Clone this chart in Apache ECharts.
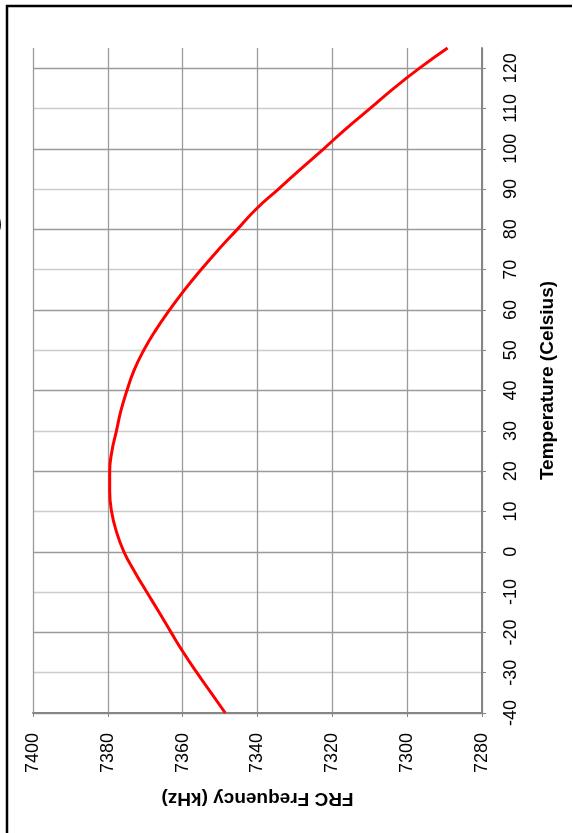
<!DOCTYPE html>
<html>
<head>
<meta charset="utf-8">
<script src="https://cdn.jsdelivr.net/npm/echarts@6/dist/echarts.min.js"></script>
<style>
html,body{margin:0;padding:0;background:#fff;overflow:hidden;}
#chart{width:573px;height:833px;}
</style>
</head>
<body>
<div id="chart"></div>
<script>
// Temperature (Celsius) sample points
const temperatures = [-40,-35,-30,-25,-20,-15,-10,-5,0,5,10,15,20,25,30,35,40,45,50,55,60,65,70,75,80,85,90,95,100,105,110,115,120,125];
// FRC Frequency (kHz)
const frequencies = [7348.6,7352.4,7356.2,7359.8,7363.1,7366.3,7369.6,7372.8,7375.7,7377.7,7379.0,7379.5,7379.5,7378.9,7377.7,7376.5,7374.9,7373.0,7370.4,7367.2,7363.5,7359.5,7355.1,7350.4,7345.4,7340.4,7334.4,7328.4,7322.3,7316.3,7309.9,7303.6,7296.7,7289.2];
// Axis tick labels
const tempTicks = [-40,-30,-20,-10,0,10,20,30,40,50,60,70,80,90,100,110,120];
const freqTicks = [7280,7300,7320,7340,7360,7380,7400];

const chart = echarts.init(document.getElementById('chart'), null, {renderer:'canvas'});
const font = "'Liberation Sans', Arial, sans-serif";
const seriesData = temperatures.map((t,i)=>[frequencies[i], t]);

chart.setOption({
  backgroundColor:'#ffffff',
  animation:false,
  grid:{left:33,right:91,top:48,bottom:120,containLabel:false},
  xAxis:{
    type:'value',
    min:freqTicks[0], max:freqTicks[freqTicks.length-1], interval:20,
    inverse:true,
    position:'bottom',
    name:'FRC Frequency (kHz)',
    nameLocation:'middle',
    nameRotate:180,
    nameGap:76,
    nameTextStyle:{fontFamily:font,fontSize:19,fontWeight:'bold',color:'#000'},
    axisLine:{show:true,onZero:false,lineStyle:{color:'#868686',width:2}},
    axisTick:{show:true,length:4,lineStyle:{color:'#868686',width:1}},
    axisLabel:{rotate:90,margin:20,fontFamily:font,fontSize:18,color:'#000',customValues:freqTicks,formatter:v=>String(v)},
    splitLine:{show:true,lineStyle:{color:'#9a9a9a',width:1.3}}
  },
  yAxis:{
    type:'value',
    min:-40, max:125, interval:5,
    position:'right',
    name:'Temperature (Celsius)',
    nameLocation:'middle',
    nameRotate:90,
    nameGap:56,
    nameTextStyle:{fontFamily:font,fontSize:19,fontWeight:'bold',color:'#000'},
    axisLine:{show:true,onZero:false,lineStyle:{color:'#868686',width:2}},
    axisTick:{show:true,length:4,customValues:tempTicks,lineStyle:{color:'#868686',width:1}},
    axisLabel:{rotate:90,margin:20,fontFamily:font,fontSize:18,color:'#000',customValues:tempTicks,formatter:v=>String(v)},
    splitLine:{show:true,lineStyle:{color:['#9a9a9a','#cccccc'],width:1.3}}
  },
  series:[{
    type:'line',
    data:seriesData,
    smooth:true,
    showSymbol:false,
    lineStyle:{color:'#ff0000',width:3},
    z:5
  }],
  graphic:[
    {type:'line',shape:{x1:7,y1:5,x2:7,y2:833},style:{stroke:'#000',lineWidth:2.5},silent:true},
    {type:'line',shape:{x1:6,y1:6,x2:572,y2:6},style:{stroke:'#000',lineWidth:2.5},silent:true},
    {type:'text',x:-5,y:224,style:{text:')',font:'22px '+font,fill:'#000',verticalAlign:'middle'}}
  ]
});
</script>
</body>
</html>
